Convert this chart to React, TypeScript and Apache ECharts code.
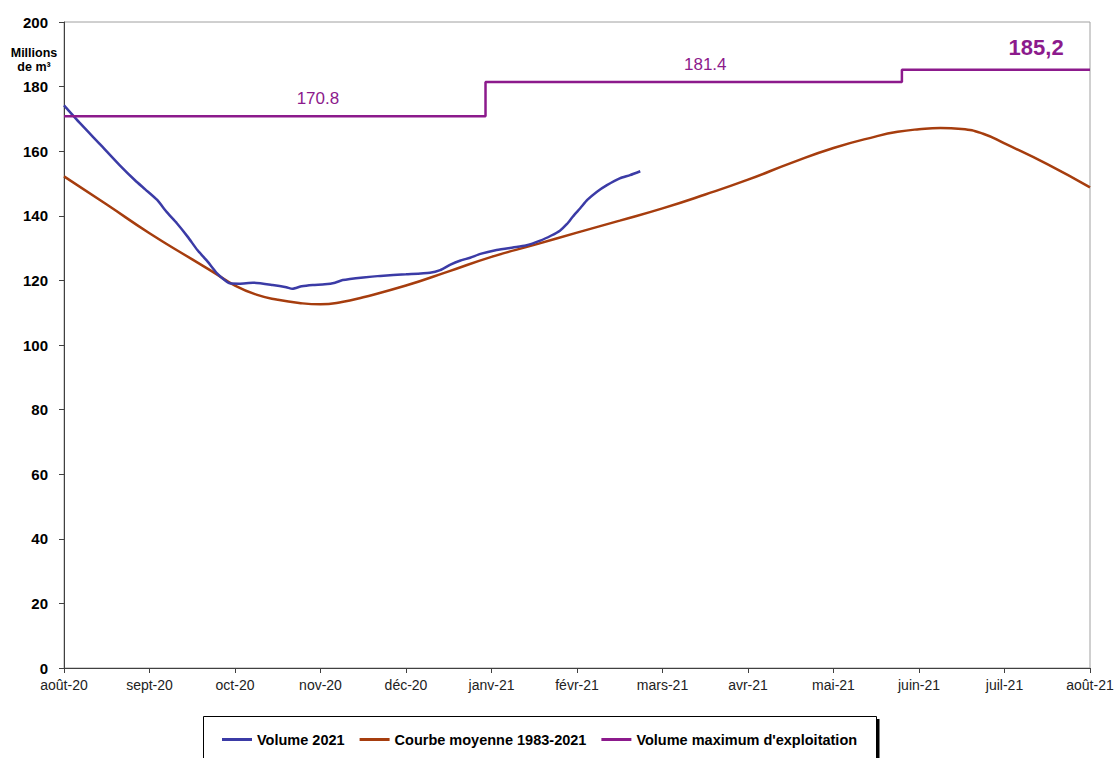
import React, { useEffect, useRef } from "react";
import * as echarts from "echarts";

// Month positions on the x axis: 0 = août-20 ... 12 = août-21
const monthLabels = [
  "août-20", "sept-20", "oct-20", "nov-20", "déc-20", "janv-21", "févr-21",
  "mars-21", "avr-21", "mai-21", "juin-21", "juil-21", "août-21",
];

// Volume 2021 (month position, million m³)
const volume2021: [number, number][] = [
  [0.0, 174.2], [0.19, 168.6], [0.42, 162.2], [0.65, 155.7], [0.83, 151.0],
  [0.95, 148.2], [1.09, 144.9], [1.2, 141.2], [1.32, 137.7], [1.45, 133.4],
  [1.56, 129.4], [1.68, 125.8], [1.79, 122.2], [1.87, 120.3], [1.94, 119.1],
  [2.05, 119.0], [2.21, 119.3], [2.44, 118.6], [2.6, 117.9], [2.67, 117.4],
  [2.78, 118.2], [2.91, 118.6], [3.05, 118.8], [3.17, 119.3], [3.26, 120.1],
  [3.5, 120.9], [3.7, 121.4], [4.0, 121.9], [4.28, 122.4], [4.4, 123.2],
  [4.52, 124.9], [4.63, 126.1], [4.75, 127.0], [4.87, 128.2], [5.06, 129.4],
  [5.25, 130.2], [5.4, 130.8], [5.57, 132.3], [5.7, 133.9], [5.8, 135.4],
  [5.88, 137.4], [5.95, 139.7], [6.04, 142.4], [6.12, 144.9], [6.23, 147.4],
  [6.35, 149.5], [6.5, 151.6], [6.62, 152.6], [6.74, 153.8],
];

// Courbe moyenne 1983-2021
const courbeMoyenne: [number, number][] = [
  [0.0, 152.2], [0.5, 143.5], [1.0, 134.6], [1.5, 126.5], [1.75, 122.5],
  [2.0, 118.4], [2.25, 115.6], [2.5, 114.0], [2.75, 113.0], [3.0, 112.6],
  [3.25, 113.3], [3.5, 114.8], [4.0, 118.4], [4.5, 122.8], [5.0, 127.3],
  [5.5, 131.0], [6.0, 134.8], [6.5, 138.5], [7.0, 142.3], [7.5, 146.6],
  [8.0, 151.2], [8.5, 156.3], [9.0, 161.0], [9.5, 164.6], [9.75, 166.0],
  [10.0, 166.8], [10.25, 167.2], [10.5, 166.9], [10.75, 165.4], [11.0, 162.4],
  [11.5, 156.0], [12.0, 148.8],
];

// Volume maximum d'exploitation (step changes)
const volumeMax: [number, number][] = [
  [0.0, 170.8], [4.93, 181.4], [9.8, 185.2], [12.0, 185.2],
];

// Annotations of the maximum volume
const maxLabelPos = [2.97, 7.5, 11.37];
const maxLabelValue = [170.8, 181.4, 185.2];
const maxLabelText = ["170.8", "181.4", "185,2"];

const yTicks = { min: 0, max: 200, interval: 20 };

export default function App() {
  const ref = useRef<HTMLDivElement>(null);

  useEffect(() => {
    document.body.style.margin = "0";
    if (!ref.current) return;
    const chart = echarts.init(ref.current, undefined, { renderer: "svg" });

    const font = "Liberation Sans, Arial, sans-serif";
    const blue = "#3b3ba6";
    const brown = "#a63d0e";
    const purple = "#8c1a8c";

    chart.setOption({
      animation: false,
      backgroundColor: "#ffffff",
      textStyle: { fontFamily: font },
      grid: {
        left: 64,
        right: 28,
        top: 22,
        bottom: 90,
        show: true,
        borderColor: "#a0a0a0",
        borderWidth: 1,
        backgroundColor: "transparent",
      },
      xAxis: {
        type: "value",
        min: 0,
        max: 12,
        interval: 1,
        axisLine: { show: true, lineStyle: { color: "#404040", width: 1 } },
        axisTick: { show: true, length: 5, lineStyle: { color: "#404040" } },
        splitLine: { show: false },
        axisLabel: {
          margin: 10,
          color: "#222",
          fontSize: 14,
          fontFamily: font,
          showMinLabel: true,
          showMaxLabel: true,
          formatter: (v: number) => monthLabels[Math.round(v)] ?? "",
        },
      },
      yAxis: {
        type: "value",
        min: yTicks.min,
        max: yTicks.max,
        interval: yTicks.interval,
        axisLine: { show: true, lineStyle: { color: "#404040", width: 1 } },
        axisTick: { show: true, length: 5, lineStyle: { color: "#404040" } },
        splitLine: { show: false },
        axisLabel: {
          margin: 16,
          color: "#000",
          fontSize: 15,
          fontWeight: "bold",
          fontFamily: font,
        },
      },
      legend: {
        left: 222,
        top: 732,
        padding: 0,
        itemGap: 15,
        itemWidth: 30,
        itemHeight: 3,
        icon: "rect",
        textStyle: { fontSize: 14.5, fontWeight: "bold", color: "#000", fontFamily: font },
        data: ["Volume 2021", "Courbe moyenne 1983-2021", "Volume maximum d'exploitation"],
      },
      graphic: [
        {
          type: "text",
          x: 34,
          y: 46,
          style: {
            text: "Millions\nde m³",
            align: "center",
            fill: "#000",
            font: `bold 12.5px ${font}`,
            lineHeight: 14,
          },
        },
        {
          type: "rect",
          shape: { x: 203.5, y: 716.5, width: 673, height: 60 },
          style: { fill: "transparent", stroke: "#000", lineWidth: 1 },
          z: -1,
        },
        {
          type: "line",
          shape: { x1: 878, y1: 719, x2: 878, y2: 760 },
          style: { stroke: "#000", lineWidth: 3 },
        },
      ],
      series: [
        {
          name: "Courbe moyenne 1983-2021",
          type: "line",
          data: courbeMoyenne,
          smooth: 0.5,
          showSymbol: false,
          symbol: "none",
          lineStyle: { color: brown, width: 2.5 },
          itemStyle: { color: brown },
          z: 2,
        },
        {
          name: "Volume 2021",
          type: "line",
          data: volume2021,
          smooth: 0.2,
          showSymbol: false,
          symbol: "none",
          lineStyle: { color: blue, width: 2.5 },
          itemStyle: { color: blue },
          z: 3,
        },
        {
          name: "Volume maximum d'exploitation",
          type: "line",
          data: volumeMax,
          step: "end",
          showSymbol: false,
          symbol: "none",
          lineStyle: { color: purple, width: 2.5 },
          itemStyle: { color: purple },
          z: 4,
          markPoint: {
            symbol: "rect",
            symbolSize: 0,
            silent: true,
            data: maxLabelPos.map((m, i) => ({
              coord: [m, maxLabelValue[i]],
              value: maxLabelValue[i],
              label: {
                show: true,
                position: "top",
                distance: i === 2 ? 11 : 9,
                formatter: maxLabelText[i],
                color: purple,
                fontFamily: font,
                fontSize: i === 2 ? 22 : 17,
                fontWeight: i === 2 ? "bold" : "normal",
              },
            })),
          },
        },
      ],
    });

    return () => chart.dispose();
  }, []);

  return <div ref={ref} style={{ width: 1118, height: 758 }} />;
}
